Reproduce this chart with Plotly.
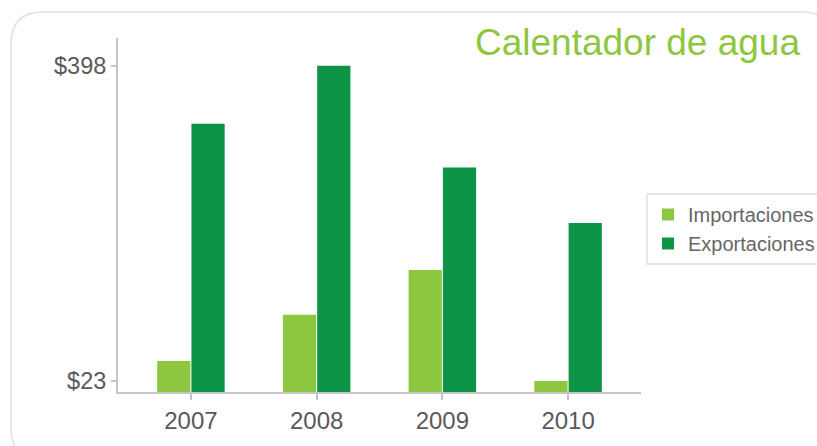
import plotly.graph_objects as go

years = ["2007", "2008", "2009", "2010"]
importaciones = [47, 102, 155, 23]
exportaciones = [329, 398, 277, 211]

W, H = 817, 446
L, R, T, B = 118, 176, 38, 54
pw, ph = W - L - R, H - T - B

def px2x(px):
    return (px - L) / pw

def py2y(py):
    return (H - B - py) / ph

fig = go.Figure()
fig.add_trace(go.Bar(name="Importaciones", x=years, y=importaciones,
                     marker=dict(color="#8dc63f", line=dict(width=0))))
fig.add_trace(go.Bar(name="Exportaciones", x=years, y=exportaciones,
                     marker=dict(color="#0e9446", line=dict(width=0))))

ymin = min(importaciones + exportaciones)
ymax = max(importaciones + exportaciones)

# rounded border
x0, y0, x1, y1, r = 11, 12, 834, 460, 32
path = (f"M {px2x(x0+r)},{py2y(y0)} L {px2x(x1-r)},{py2y(y0)} "
        f"Q {px2x(x1)},{py2y(y0)} {px2x(x1)},{py2y(y0+r)} "
        f"L {px2x(x1)},{py2y(y1-r)} Q {px2x(x1)},{py2y(y1)} {px2x(x1-r)},{py2y(y1)} "
        f"L {px2x(x0+r)},{py2y(y1)} Q {px2x(x0)},{py2y(y1)} {px2x(x0)},{py2y(y1-r)} "
        f"L {px2x(x0)},{py2y(y0+r)} Q {px2x(x0)},{py2y(y0)} {px2x(x0+r)},{py2y(y0)} Z")

fig.update_layout(
    width=W, height=H,
    margin=dict(l=L, r=R, t=T, b=B, pad=0, autoexpand=False),
    paper_bgcolor="white", plot_bgcolor="white",
    font=dict(family="Liberation Sans, Arial, sans-serif", color="#595959"),
    title=dict(text="Calentador de agua", x=800 / W, xanchor="right",
               y=1 - 42 / H, yanchor="middle", xref="container", yref="container",
               font=dict(size=37, color="#8dc63f")),
    barmode="group", bargap=0.455, bargroupgap=0.03,
    showlegend=True,
    legend=dict(x=px2x(646), y=py2y(193), xanchor="left", yanchor="top",
                bordercolor="#e6e6e6", borderwidth=2, bgcolor="white",
                font=dict(size=20, color="#666666"), traceorder="normal"),
    xaxis=dict(type="category", range=[-0.58, 3.58], showgrid=False,
               showline=True, linecolor="#c4c4cc", linewidth=2,
               ticks="outside", ticklen=6, tickcolor="#c4c4cc", tickwidth=2,
               tickfont=dict(size=24, color="#595959"), zeroline=False),
    yaxis=dict(range=[10, 431], showgrid=False, zeroline=False,
               showline=True, linecolor="#c4c4cc", linewidth=2,
               ticks="outside", ticklen=5, tickcolor="#c4c4cc", tickwidth=2,
               tickvals=[ymin, ymax], ticktext=[f"${ymin}", f"${ymax}"],
               tickfont=dict(size=23.5, color="#595959")),
    shapes=[dict(type="path", xref="paper", yref="paper", path=path,
                 line=dict(color="#e6e6e6", width=2), layer="below")],
)

fig.write_html("out.html", config={"displayModeBar": False},
               post_script="document.body.style.margin='0';document.body.style.overflow='hidden';")
